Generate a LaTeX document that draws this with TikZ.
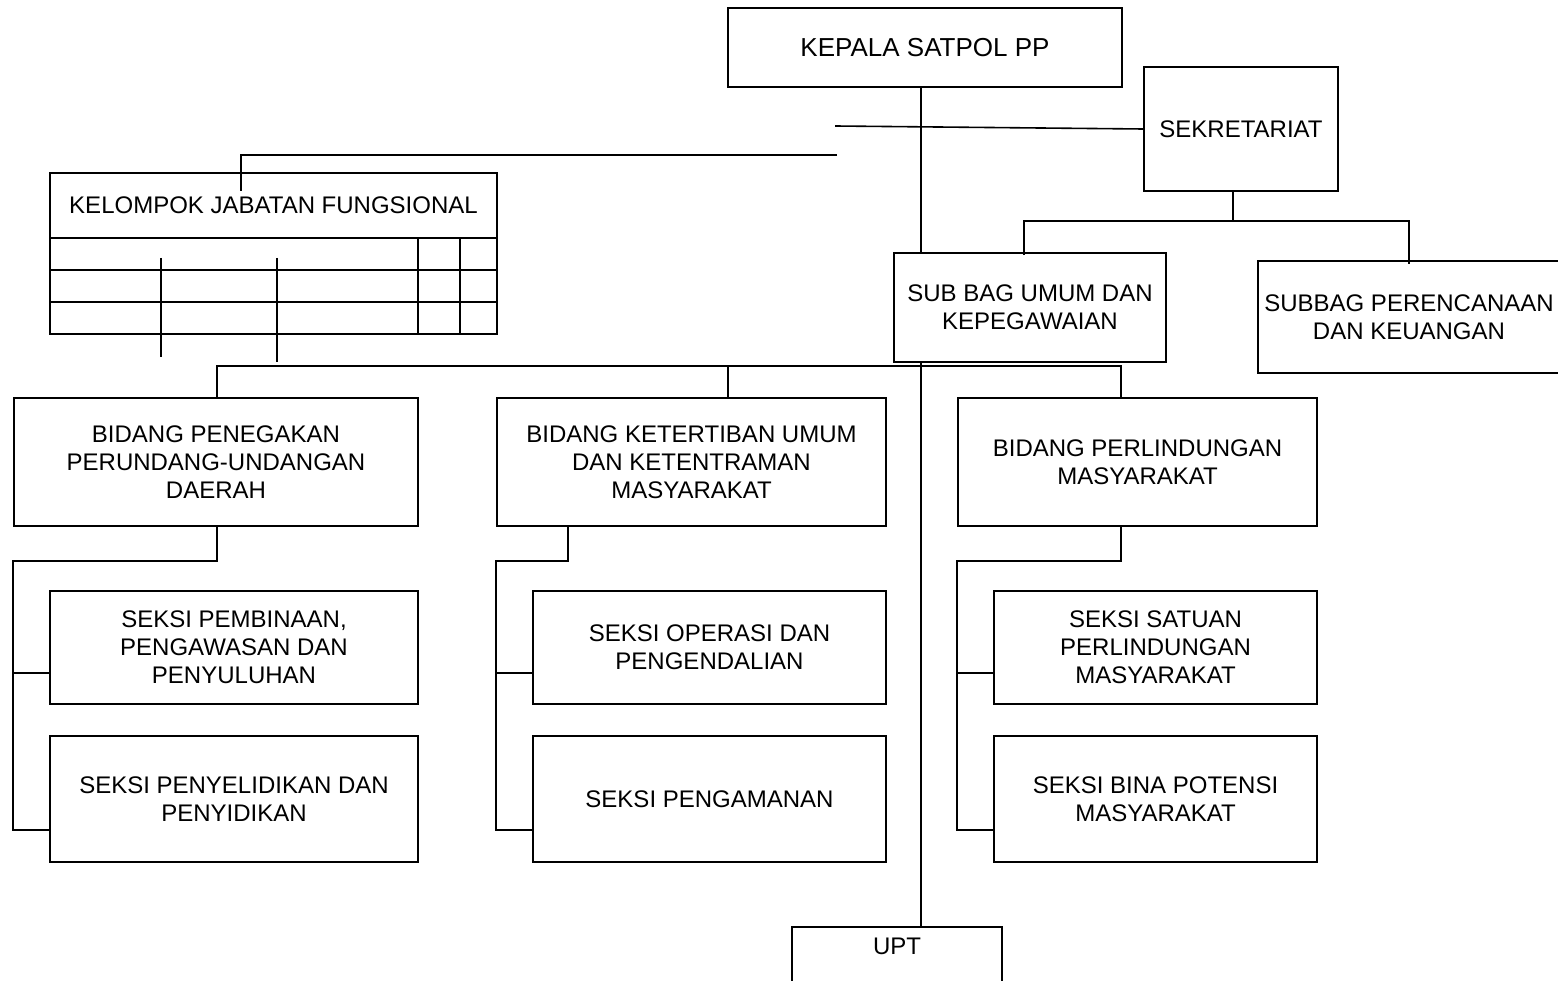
\documentclass[tikz,border=0pt]{standalone}
\usepackage{fontspec}
\setmainfont{Liberation Sans}
\usepackage{tikz}

\begin{document}
\begin{tikzpicture}[x=1pt, y=-1pt,
  box/.style={draw, line width=1.8pt, fill=white, align=center, inner sep=0pt,
    font=\fontsize{24}{28}\selectfont},
  link/.style={line width=1.6pt},
  thicklink/.style={line width=2.6pt}]

\useasboundingbox[fill=white] (0,0) rectangle (1558,981);

% top
\node[box, minimum width=394pt, minimum height=79pt, font=\fontsize{26}{30}\selectfont]
  (kepala) at (925,47.5) {KEPALA SATPOL PP};
\node[box, minimum width=194pt, minimum height=124pt] (sekr) at (1241,129) {SEKRETARIAT};
\node[box, minimum width=272pt, minimum height=109pt] (umum) at (1030,307.5)
  {SUB BAG UMUM DAN\\KEPEGAWAIAN};
\node[box, minimum width=302pt, minimum height=112pt] (perenc) at (1409,317)
  {SUBBAG PERENCANAAN\\DAN KEUANGAN};

% kelompok jabatan fungsional
\node[box, minimum width=447pt, minimum height=65pt] (kjf) at (273.5,205.5)
  {KELOMPOK JABATAN FUNGSIONAL};
\draw[line width=1.8pt] (50,238) rectangle (497,334);
\foreach \y in {270,302}{
	\draw[line width=1.8pt] (50,\y)--(497,\y);
}
\foreach \x in {418,460}{
	\draw[line width=1.8pt] (\x,238)--(\x,334);
}
\draw[link] (161,258)--(161,357);
\draw[thicklink] (277,258)--(277,362);

% bidang
\node[box, minimum width=404pt, minimum height=128pt] (bid1) at (216,462)
  {BIDANG PENEGAKAN\\PERUNDANG-UNDANGAN\\DAERAH};
\node[box, minimum width=389pt, minimum height=128pt] (bid2) at (691.5,462)
  {BIDANG KETERTIBAN UMUM\\DAN KETENTRAMAN\\MASYARAKAT};
\node[box, minimum width=359pt, minimum height=128pt] (bid3) at (1137.5,462)
  {BIDANG PERLINDUNGAN\\MASYARAKAT};

% seksi
\node[box, minimum width=368pt, minimum height=113pt] (sekA1) at (234,647.5)
  {SEKSI PEMBINAAN,\\PENGAWASAN DAN\\PENYULUHAN};
\node[box, minimum width=368pt, minimum height=126pt] (sekB1) at (234,799)
  {SEKSI PENYELIDIKAN DAN\\PENYIDIKAN};
\node[box, minimum width=353pt, minimum height=113pt] (sekA2) at (709.5,647.5)
  {SEKSI OPERASI DAN\\PENGENDALIAN};
\node[box, minimum width=353pt, minimum height=126pt] (sekB2) at (709.5,799)
  {SEKSI PENGAMANAN};
\node[box, minimum width=323pt, minimum height=113pt] (sekA3) at (1155.5,647.5)
  {SEKSI SATUAN\\PERLINDUNGAN\\MASYARAKAT};
\node[box, minimum width=323pt, minimum height=126pt] (sekB3) at (1155.5,799)
  {SEKSI BINA POTENSI\\MASYARAKAT};

\node[box, minimum width=210pt, text height=26pt, text depth=70pt, inner ysep=2pt, anchor=north]
  (upt) at (897,926) {UPT};

% spine
\coordinate (spine) at ([xshift=-4pt]kepala.south);
\draw[link] (spine)--(spine |- umum.north);
\draw[link] (spine |- umum.south)--(spine |- upt.north);

% sekretariat and jabatan fungsional
\coordinate (sekend) at (835,126);
\draw[link] (sekend)--(sekr.west);
\coordinate (kjfend) at (837,155);
\coordinate (kjfin) at ([xshift=192pt, yshift=-19pt]kjf.north west);
\draw[link] (kjfend) -| (kjfin);

\coordinate (sekdown) at ([xshift=-8pt]sekr.south);
\coordinate (umumin) at ([xshift=131pt, yshift=-3pt]umum.north west);
\coordinate (perencin) at ([xshift=152pt, yshift=-4pt]perenc.north west);
\draw[thicklink] (sekdown)--++(0,29) coordinate (sekbus);
\draw[thicklink] (umumin) |- (sekbus) -| (perencin);

% bidang bus
\draw[link] ([xshift=204pt]bid1.north west)--++(0,-31) -| ([xshift=164pt]bid3.north west);
\draw[link] ([xshift=232pt]bid2.north west)--++(0,-31);

\foreach \i/\dx in {1/204, 2/72, 3/164}{

	\coordinate (top\i) at ([xshift=\dx pt]bid\i.south west);
	\coordinate (ra\i) at ([yshift=32pt]sekA\i.south west);
	\coordinate (rb\i) at ([yshift=33pt]sekB\i.south west);
	\draw[link] (top\i)--++(0,34) -| (bid\i.south west |- rb\i)--(rb\i);
	\draw[link] (bid\i.south west |- ra\i)--(ra\i);

}

\end{tikzpicture}
\end{document}
